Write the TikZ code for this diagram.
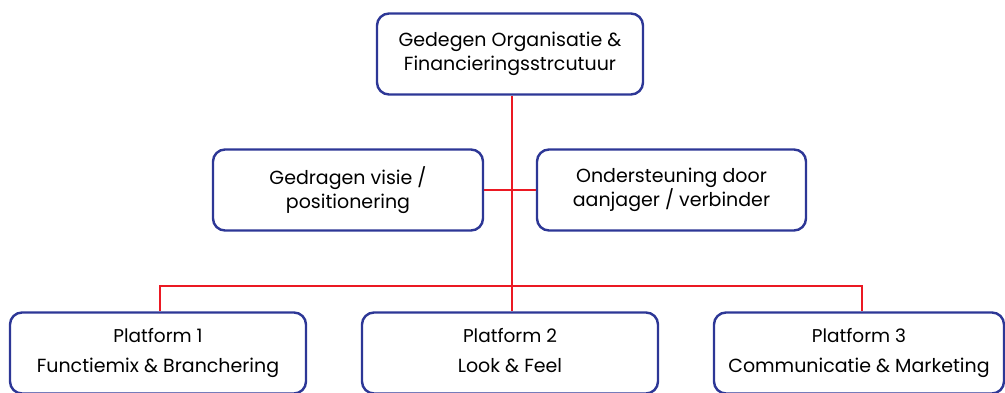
\documentclass[tikz,border=0pt]{standalone}
\usepackage{fontspec}
\setmainfont{Poppins}
\usepackage{tikz}
\definecolor{boxblue}{RGB}{45,55,150}
\definecolor{linered}{RGB}{235,25,35}

\begin{document}
\begin{tikzpicture}[x=1pt,y=-1pt,
  box/.style={draw=boxblue,line width=2.4pt,rounded corners=12pt,fill=white,
    minimum height=81pt,align=center,font=\fontsize{19}{23.5}\selectfont},
  link/.style={draw=linered,line width=2pt}]
\useasboundingbox (0,0) rectangle (1005,392);
\clip (0,0) rectangle (1005,392);
% top and middle row
\node[box,minimum width=266pt] (org) at (510,54) {Gedegen Organisatie \&\\Financieringsstrcutuur};
\node[box,minimum width=270pt] (visie) at (348,190) {Gedragen visie /\\positionering};
\node[box,minimum width=269pt] (steun) at (671.5,190) {Ondersteuning door\\aanjager / verbinder};
% platforms
\node[box,minimum width=296pt] (plat1) at (158,353) {{\fontsize{18.5}{23}\selectfont\strut Platform 1}\\[6pt]\strut Functiemix \& Branchering};
\node[box,minimum width=296pt] (plat2) at (510,353) {{\fontsize{18.5}{23}\selectfont\strut Platform 2}\\[6pt]\strut Look \& Feel};
\node[box,minimum width=290pt] (plat3) at (859,353) {{\fontsize{18.5}{23}\selectfont\strut Platform 3}\\[6pt]\strut Communicatie \& Marketing};
% connectors
\coordinate (bar) at (512,286);
\draw[link] (org.south -| bar) -- (plat2.north -| bar);
\draw[link] (visie.east) -- (steun.west);
\draw[link] (plat1.north -| 160,0) |- (bar) -| (plat3.north -| 862,0);
\end{tikzpicture}
\end{document}
